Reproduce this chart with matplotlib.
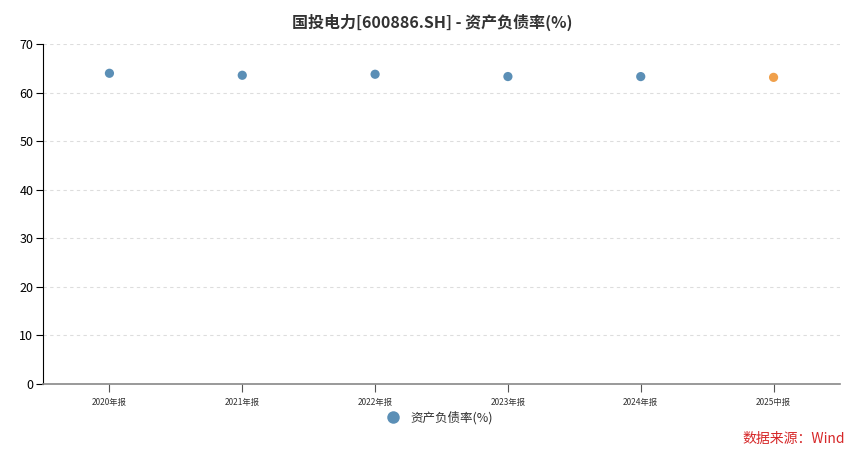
import matplotlib
matplotlib.use('Agg')
import matplotlib.pyplot as plt
from matplotlib.lines import Line2D

plt.rcParams['font.family'] = ['Noto Sans CJK SC', 'DejaVu Sans']

#==================
# Data
periods = ['2020年报', '2021年报', '2022年报', '2023年报', '2024年报', '2025中报']
debtRatio = [63.97, 63.56, 63.77, 63.30, 63.29, 63.13]
pointColors = ['#5b8fb6', '#5b8fb6', '#5b8fb6', '#5b8fb6', '#5b8fb6', '#f0a04b']
yTicks = [0, 10, 20, 30, 40, 50, 60, 70]

#==================
# Figure
fig = plt.figure(figsize=(8.64, 4.68), dpi=100, facecolor='w')
ax = fig.add_axes([0.0498, 0.1795, 0.9224, 0.7265])

x = list(range(len(periods)))
ax.scatter(x, debtRatio, s=44, c=pointColors, zorder=3, linewidths=0)

ax.set_xlim(-0.5, len(periods) - 0.5)
ax.set_ylim(0, 70)
ax.set_yticks(yTicks)
ax.set_xticks(x)
ax.set_xticklabels(periods, fontsize=6, color='#333333')
ax.tick_params(axis='y', labelsize=9, length=5, width=0.8, colors='#000000', pad=2)
ax.tick_params(axis='x', length=6, width=0.8, color='#555555', pad=4)

ax.grid(axis='y', linestyle=(0, (3, 3)), color='#dddddd', linewidth=0.8)
ax.set_axisbelow(True)

ax.spines['top'].set_visible(False)
ax.spines['right'].set_visible(False)
ax.spines['left'].set_color('#000000')
ax.spines['left'].set_linewidth(0.8)
ax.spines['bottom'].set_color('#888888')
ax.spines['bottom'].set_linewidth(1.2)

fig.text(0.5, 0.953, '国投电力[600886.SH] - 资产负债率(%)', ha='center', va='center',
         fontsize=11.5, fontweight='bold', color='#333333')

#==================
# Legend
handle = Line2D([], [], marker='o', linestyle='none', markersize=9,
                markerfacecolor='#5b8fb6', markeredgewidth=0)
fig.legend([handle], ['资产负债率(%)'], loc='center', bbox_to_anchor=(0.505, 0.107),
           frameon=False, fontsize=9, handletextpad=0.4, labelcolor='#333333')

fig.text(0.978, 0.063, '数据来源：Wind', ha='right', va='center',
         fontsize=10, color='#d62728')

fig.savefig('out.png', dpi=100)
